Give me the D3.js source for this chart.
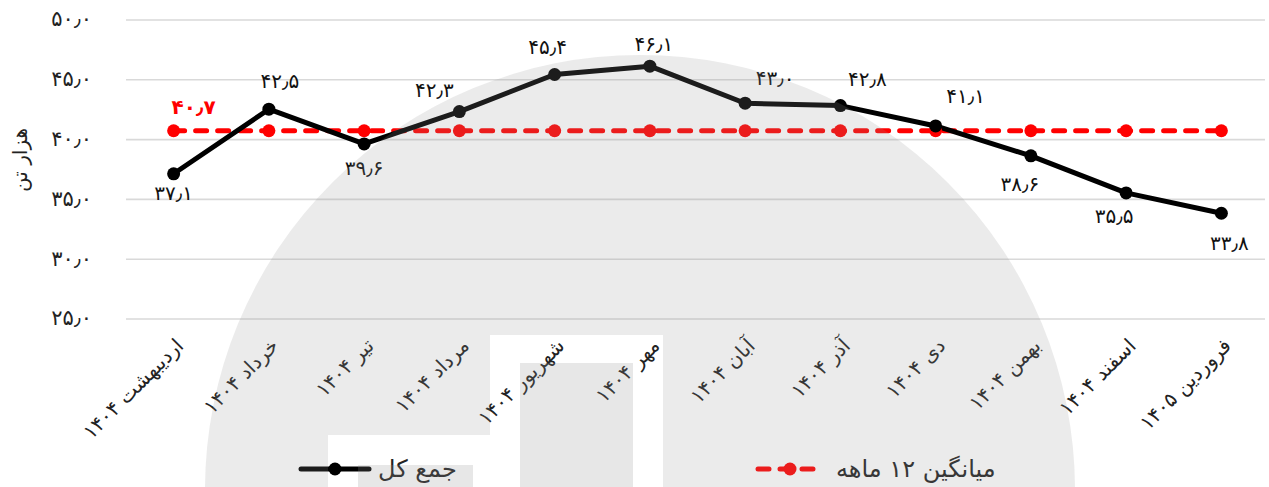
<!DOCTYPE html>
<html>
<head>
<meta charset="utf-8">
<script src="https://cdn.jsdelivr.net/npm/d3@7"></script>
<style>
  html, body { margin: 0; padding: 0; background: #fff; }
  svg { display: block; }
  text { font-family: "DejaVu Sans", sans-serif; }
</style>
</head>
<body>
<svg id="chart" width="1269" height="487"></svg>
<script>
// ---------------- data ----------------
const categories = [
  "اردیبهشت ۱۴۰۴", "خرداد ۱۴۰۴", "تیر ۱۴۰۴", "مرداد ۱۴۰۴",
  "شهریور ۱۴۰۴", "مهر ۱۴۰۴", "آبان ۱۴۰۴", "آذر ۱۴۰۴",
  "دی ۱۴۰۴", "بهمن ۱۴۰۴", "اسفند ۱۴۰۴", "فروردین ۱۴۰۵"
];
const totalValues = [37.1, 42.5, 39.6, 42.3, 45.4, 46.1, 43.0, 42.8, 41.1, 38.6, 35.5, 33.8];
const avgValues   = [40.7, 40.7, 40.7, 40.7, 40.7, 40.7, 40.7, 40.7, 40.7, 40.7, 40.7, 40.7];
const yTicks = [25, 30, 35, 40, 45, 50];
const seriesNames = ["جمع کل", "میانگین ۱۲ ماهه"];
const yTitle = "هزار تن";

// label placement (layout only): [dx, dy] from point to label centre
const labelOffsets = [[0,19],[11,-28],[0,24],[-25,-22],[-7,-28],[4,-22],[30,-25],[27,-27],[30,-30],[-11,28],[-12,23],[8,30]];

// ---------------- helpers ----------------
const faDigits = "۰۱۲۳۴۵۶۷۸۹";
function toFa(str) {
  return String(str).replace(/[0-9]/g, d => faDigits[+d]).replace(/\./g, "٫");
}
const fmt1 = v => toFa(v.toFixed(1));

// ---------------- chart ----------------
const svg = d3.select("#chart");

const x = d3.scaleBand().domain(categories).range([126, 1269]).paddingInner(0).paddingOuter(0);
const cx = c => x(c) + x.bandwidth() / 2;
const y = d3.scaleLinear().domain([25, 50]).range([318.5, 19.5]);

const RED = "#ff0000";

// gridlines + y tick labels
const yAxis = d3.axisLeft(y).tickValues(yTicks).tickSize(-(1265 - 126)).tickFormat(d => toFa(d.toFixed(1)));
const gy = svg.append("g").attr("transform", "translate(126,0)").call(yAxis);
gy.select(".domain").remove();
gy.selectAll(".tick line").attr("stroke", "#d9d9d9").attr("stroke-width", 1.6);
gy.selectAll(".tick text")
  .attr("x", -34)
  .attr("dy", "0.3em")
  .attr("font-size", 21)
  .attr("fill", "#222")
  .style("font-family", "DejaVu Sans, sans-serif");

// y title
svg.append("text")
  .attr("transform", "translate(20,160) rotate(-90)")
  .attr("text-anchor", "middle")
  .attr("dy", "0.35em")
  .attr("font-size", 20)
  .attr("fill", "#222")
  .text(yTitle);

// x labels
const gx = svg.append("g");
gx.selectAll("text").data(categories).join("text")
  .attr("transform", d => `translate(${cx(d) + 6},${342}) rotate(-45)`)
  .attr("text-anchor", "end")
  .attr("dy", "0.35em")
  .attr("font-size", 20)
  .attr("fill", "#222")
  .text(d => d);

// average dashed line
const lineAvg = d3.line().x((d, i) => cx(categories[i])).y(d => y(d));
svg.append("path")
  .datum(avgValues)
  .attr("d", lineAvg)
  .attr("fill", "none")
  .attr("stroke", RED)
  .attr("stroke-width", 5)
  .attr("stroke-linecap", "round")
  .attr("stroke-dasharray", "11,11");

// total line
const lineTot = d3.line().x((d, i) => cx(categories[i])).y(d => y(d));
svg.append("path")
  .datum(totalValues)
  .attr("d", lineTot)
  .attr("fill", "none")
  .attr("stroke", "#000")
  .attr("stroke-width", 5)
  .attr("stroke-linejoin", "round");

svg.append("g").selectAll("circle").data(avgValues).join("circle")
  .attr("cx", (d, i) => cx(categories[i]))
  .attr("cy", d => y(d))
  .attr("r", 6.5)
  .attr("fill", RED);

svg.append("g").selectAll("circle").data(totalValues).join("circle")
  .attr("cx", (d, i) => cx(categories[i]))
  .attr("cy", d => y(d))
  .attr("r", 6.5)
  .attr("fill", "#000");

// data labels
svg.append("g").selectAll("text").data(totalValues).join("text")
  .attr("x", (d, i) => cx(categories[i]) + labelOffsets[i][0])
  .attr("y", (d, i) => y(d) + labelOffsets[i][1])
  .attr("text-anchor", "middle")
  .attr("dy", "0.35em")
  .attr("font-size", 20)
  .attr("fill", "#111")
  .text(d => fmt1(d));

// average label
svg.append("text")
  .attr("x", cx(categories[0]) + 20)
  .attr("y", y(avgValues[0]) - 24)
  .attr("text-anchor", "middle")
  .attr("dy", "0.35em")
  .attr("font-size", 20)
  .attr("font-weight", "bold")
  .attr("fill", RED)
  .text(fmt1(avgValues[0]));

// legend
const lg = svg.append("g");
lg.append("line").attr("x1", 301).attr("x2", 369).attr("y1", 469).attr("y2", 469)
  .attr("stroke", "#000").attr("stroke-width", 5).attr("stroke-linecap", "round");
lg.append("circle").attr("cx", 335).attr("cy", 469).attr("r", 6.5).attr("fill", "#000");
lg.append("text").attr("x", 378).attr("y", 469).attr("dy", "0.35em")
  .attr("font-size", 24).attr("fill", "#222").text(seriesNames[0]);
lg.append("line").attr("x1", 758).attr("x2", 820).attr("y1", 469).attr("y2", 469)
  .attr("stroke", RED).attr("stroke-width", 5).attr("stroke-linecap", "round")
  .attr("stroke-dasharray", "11,11");
lg.append("circle").attr("cx", 790).attr("cy", 469).attr("r", 6.5).attr("fill", RED);
lg.append("text").attr("x", 836).attr("y", 469).attr("dy", "0.35em")
  .attr("font-size", 24).attr("fill", "#222").text(seriesNames[1]);

// watermark overlay
const wm = svg.append("g").attr("pointer-events", "none");
const circ = d3.path();
circ.moveTo(640 + 435, 490);
circ.arc(640, 490, 435, 0, Math.PI * 2);
circ.closePath();
const hole = "M328,435 H490 V335 H663 V495 H328 Z";
const inner = "M520,363 H633 V495 H520 Z M358,465 H473 V495 H358 Z";
wm.append("path")
  .attr("d", circ.toString() + " " + hole + " " + inner)
  .attr("fill-rule", "evenodd")
  .attr("fill", "#959595")
  .attr("fill-opacity", 0.19);
wm.append("path")
  .attr("d", inner)
  .attr("fill", "#959595")
  .attr("fill-opacity", 0.04);
</script>
</body>
</html>
